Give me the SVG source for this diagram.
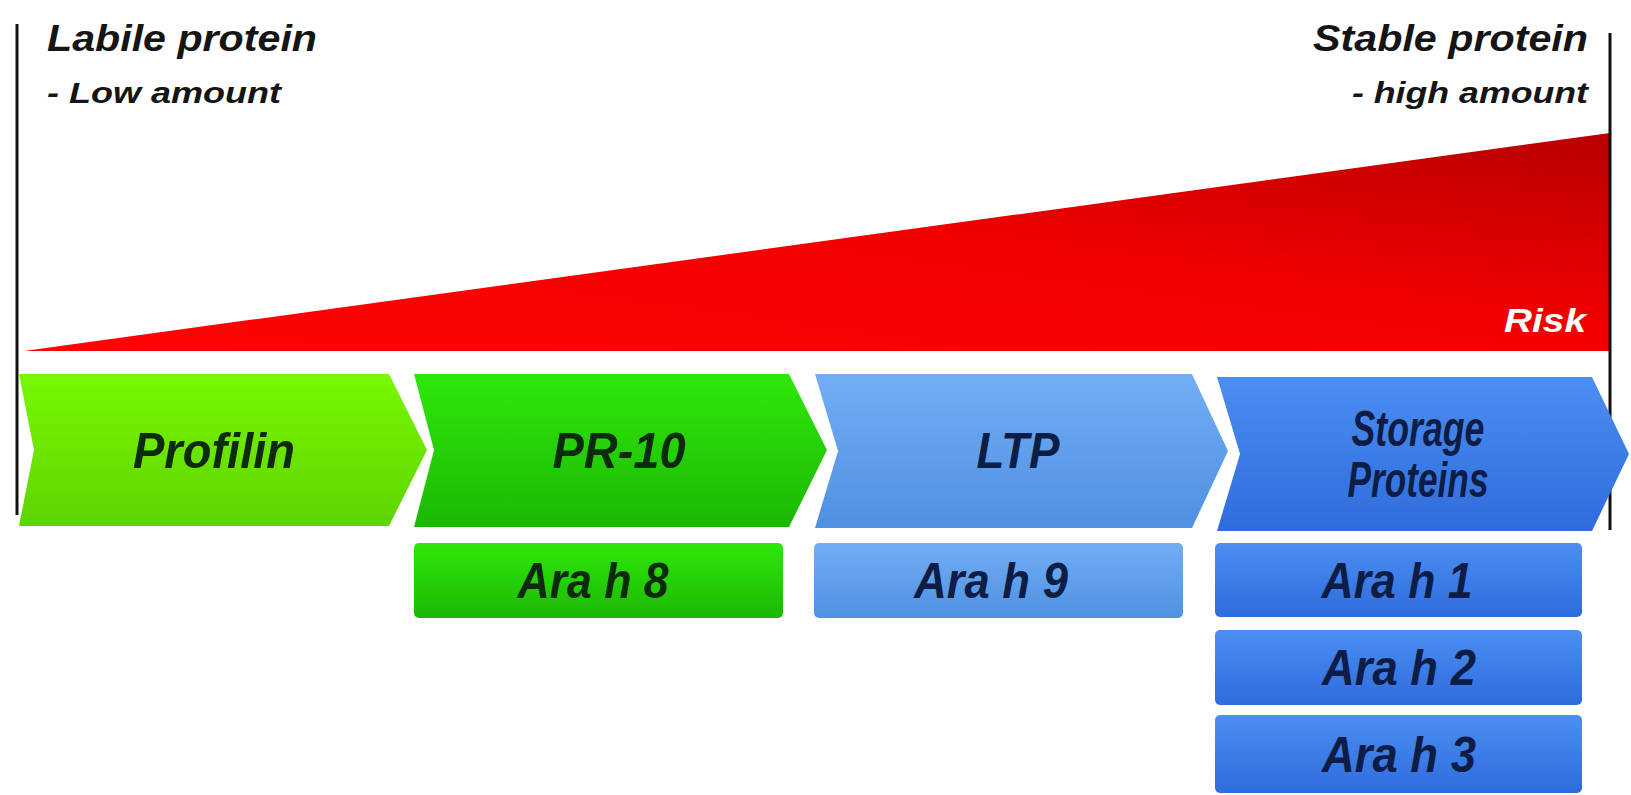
<svg xmlns="http://www.w3.org/2000/svg" width="1631" height="795" viewBox="0 0 1631 795">
<defs>
<style>
.hdr{font-family:"Liberation Sans",Arial,sans-serif;font-weight:bold;font-style:italic;fill:#151515}
.lbl{font-family:"Liberation Sans",Arial,sans-serif;font-weight:bold;font-style:italic;font-size:50px;text-anchor:middle}
.g{fill:#0e2a0c}
.b{fill:#0d1d45}
.axis{stroke:#111;stroke-width:3;fill:none}
</style>
<linearGradient id="risk" x1="0" y1="1" x2="1" y2="0">
<stop offset="0" stop-color="#ff0505"/>
<stop offset="0.55" stop-color="#f20000"/>
<stop offset="1" stop-color="#b80000"/>
</linearGradient>
<linearGradient id="gProf" x1="0" y1="0" x2="0" y2="1">
<stop offset="0" stop-color="#78f800"/>
<stop offset="1" stop-color="#5ed400"/>
</linearGradient>
<linearGradient id="gPR" x1="0" y1="0" x2="0" y2="1">
<stop offset="0" stop-color="#2ee80a"/>
<stop offset="1" stop-color="#1cb804"/>
</linearGradient>
<linearGradient id="gLTP" x1="0" y1="0" x2="0" y2="1">
<stop offset="0" stop-color="#72aef4"/>
<stop offset="1" stop-color="#4f90e2"/>
</linearGradient>
<linearGradient id="gSt" x1="0" y1="0" x2="0" y2="1">
<stop offset="0" stop-color="#4c8ef2"/>
<stop offset="1" stop-color="#2e6cdc"/>
</linearGradient>
</defs>
<rect width="1631" height="795" fill="#ffffff"/>

<g id="risk-triangle">
<polygon points="24,351 1610,133 1610,351" fill="url(#risk)"/>
<text x="1586" y="332" text-anchor="end" font-family="Liberation Sans,Arial,sans-serif" font-weight="bold" font-style="italic" font-size="33" fill="#ffffff" textLength="82" lengthAdjust="spacingAndGlyphs">Risk</text>
</g>

<g id="axis-lines">
<line class="axis" x1="17" y1="24" x2="17" y2="515"/>
<line class="axis" x1="1610" y1="33" x2="1610" y2="530"/>
</g>

<g id="label-labile">
<text class="hdr" x="47" y="51" font-size="36" textLength="270" lengthAdjust="spacingAndGlyphs">Labile protein</text>
<text class="hdr" x="47" y="103" font-size="30" textLength="234" lengthAdjust="spacingAndGlyphs">- Low amount</text>
</g>
<g id="label-stable">
<text class="hdr" x="1313" y="51" font-size="36" textLength="275" lengthAdjust="spacingAndGlyphs">Stable protein</text>
<text class="hdr" x="1352" y="103" font-size="30" textLength="236" lengthAdjust="spacingAndGlyphs">- high amount</text>
</g>

<g id="node-profilin">
<polygon points="19,374 389,374 427,450 389,526 19,526 34,450" fill="url(#gProf)"/>
<text class="lbl g" x="214" y="468" textLength="162" lengthAdjust="spacingAndGlyphs">Profilin</text>
</g>
<g id="node-pr10">
<polygon points="414,374 789,374 827,450 789,527 414,527 434,450" fill="url(#gPR)"/>
<text class="lbl g" x="619" y="468" textLength="133" lengthAdjust="spacingAndGlyphs">PR-10</text>
</g>
<g id="node-ltp">
<polygon points="815,374 1192,374 1228,451 1192,528 815,528 838,451" fill="url(#gLTP)"/>
<text class="lbl b" x="1018" y="468" textLength="83" lengthAdjust="spacingAndGlyphs">LTP</text>
</g>
<g id="node-storage">
<polygon points="1217,377 1592,377 1629,454 1592,531 1217,531 1240,454" fill="url(#gSt)"/>
<text class="lbl b" x="1418" y="446" font-size="31" textLength="133" lengthAdjust="spacingAndGlyphs">Storage</text>
<text class="lbl b" x="1418" y="497" font-size="31" textLength="141" lengthAdjust="spacingAndGlyphs">Proteins</text>
</g>

<g id="node-arah8">
<rect x="414" y="543" width="369" height="75" rx="5" fill="url(#gPR)"/>
<text class="lbl g" x="593" y="598" textLength="151" lengthAdjust="spacingAndGlyphs">Ara h 8</text>
</g>
<g id="node-arah9">
<rect x="814" y="543" width="369" height="75" rx="5" fill="url(#gLTP)"/>
<text class="lbl b" x="991" y="598" textLength="154" lengthAdjust="spacingAndGlyphs">Ara h 9</text>
</g>
<g id="node-arah1">
<rect x="1215" y="543" width="367" height="74" rx="5" fill="url(#gSt)"/>
<text class="lbl b" x="1397" y="598" textLength="151" lengthAdjust="spacingAndGlyphs">Ara h 1</text>
</g>
<g id="node-arah2">
<rect x="1215" y="630" width="367" height="75" rx="5" fill="url(#gSt)"/>
<text class="lbl b" x="1399" y="685" textLength="154" lengthAdjust="spacingAndGlyphs">Ara h 2</text>
</g>
<g id="node-arah3">
<rect x="1215" y="715" width="367" height="78" rx="5" fill="url(#gSt)"/>
<text class="lbl b" x="1399" y="772" textLength="154" lengthAdjust="spacingAndGlyphs">Ara h 3</text>
</g>

<g id="connectors"></g>
</svg>
